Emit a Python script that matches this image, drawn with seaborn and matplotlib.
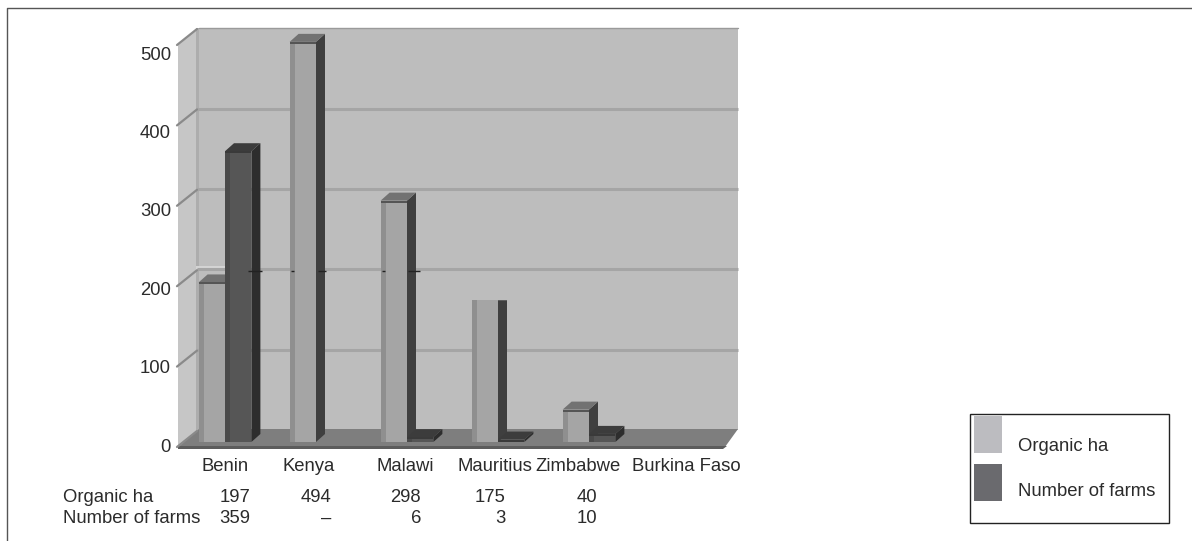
import numpy as np
import pandas as pd
import matplotlib
matplotlib.use("Agg")
import matplotlib.pyplot as plt
from matplotlib.patches import Polygon, Rectangle, Patch
from matplotlib.colors import to_hex
from matplotlib.transforms import ScaledTranslation
import seaborn as sns

countries = ["Benin", "Kenya", "Malawi", "Mauritius", "Zimbabwe", "Burkina Faso"]
organic_ha = [197, 494, 298, 175, 40, np.nan]
farms = [359, np.nan, 6, 3, 10, np.nan]
series_names = ["Organic ha", "Number of farms"]
table_organic = ["197", "494", "298", "175", "40"]
table_farms = ["359", "–", "6", "3", "10"]
y_ticks = [0, 100, 200, 300, 400, 500]

W, H = 1192, 541
DPI = 100
TXT = "#2b2b2b"
BAR_LIGHT, BAR_DARK = "#a5a5a5", "#565656"
sns.set_theme(style="white")
plt.rcParams["font.family"] = ["Liberation Sans", "DejaVu Sans"]
FS = 13.35

fig = plt.figure(figsize=(W / DPI, H / DPI), dpi=DPI, facecolor="white")


def px_axes(left, top, right, bottom, **kw):
    return fig.add_axes([left / W, 1 - bottom / H, (right - left) / W, (bottom - top) / H], **kw)


# pixel canvas for the chart furniture
bg = fig.add_axes([0, 0, 1, 1], zorder=0)
bg.set_xlim(0, W)
bg.set_ylim(H, 0)
bg.axis("off")
bg.plot([6.5, 6.5, W], [H, 7.5, 7.5], color="#555555", lw=1.0)

# back wall, side wall, floor
bg.add_patch(Rectangle((199, 28), 539, 402, fc="#bdbdbd", ec="none"))
bg.plot([199, 738], [28, 28], color="#9a9a9a", lw=1)
bg.add_patch(Polygon([(178, 447), (199, 430), (199, 28), (178, 45)], fc="#c6c6c6", ec="none"))
bg.add_patch(Rectangle((196, 28), 3, 402, fc="#adadad", ec="none"))
for v in y_ticks[1:5]:
    yy = 430 - 0.803 * v
    bg.plot([197, 738], [yy, yy], color="#a5a5a5", lw=2.2, solid_capstyle="butt")
for v in y_ticks:
    yf = 447 - 0.804 * v
    bg.plot([177, 197], [yf, yf - 16], color="#8a8a8a", lw=1.6)
bg.add_patch(Polygon([(178, 447), (199, 429), (738, 429), (725, 447)], fc="#7e7e7e", ec="none"))
bg.add_patch(Polygon([(178, 449), (178, 446), (727, 446), (723, 449)], fc="#5c5c5c", ec="none"))

# bars
df = pd.DataFrame({
    "country": countries * 2,
    "value": organic_ha + farms,
    "series": [series_names[0]] * 6 + [series_names[1]] * 6,
})
ax = px_axes(179.5, 37, 725.5, 442, zorder=2)
ax.patch.set_alpha(0)
sns.barplot(data=df, x="country", y="value", hue="series", hue_order=series_names,
            palette=[BAR_LIGHT, BAR_DARK], width=0.58, gap=0, legend=False,
            saturation=1, linewidth=0, edgecolor="none", ax=ax, order=countries)
ax.set_xlim(-0.5, 5.5)
ax.set_ylim(0, 500)
ax.set_xlabel("")
ax.set_ylabel("")
sns.despine(ax=ax, left=True, bottom=True)
ax.set_yticks([])
ax.tick_params(axis="x", length=0, pad=11.5, labelsize=FS, labelcolor=TXT)
label_shift = [0, -7, -2, -3, -11, 6]
for lab, dx in zip(ax.get_xticklabels(), label_shift):
    lab.set_transform(lab.get_transform() + ScaledTranslation(dx / DPI, 0, fig.dpi_scale_trans))

# 3-D faces computed from each bar through the axes' own scales
DX, DY = 9, 8
capless = {countries.index("Mauritius")}
to_px = ax.transData + bg.transData.inverted()
for bar in list(ax.patches):
    h = bar.get_height()
    if not np.isfinite(h) or h <= 0:
        continue
    (x0, ytop), (x1, ybot) = to_px.transform([(bar.get_x(), h),
                                              (bar.get_x() + bar.get_width(), 0)])
    light = to_hex(bar.get_facecolor()) == BAR_LIGHT
    flat = light and round(bar.get_x() + bar.get_width() / 2 + 0.14) in capless
    side = "#3f3f3f" if light else "#2d2d2d"
    cap = "#727272" if light else "#3c3c3c"
    strip = "#8f8f8f" if light else "#4a4a4a"
    z = 2.0 if light else 2.5
    kw = dict(transform=bg.transData, clip_on=False, ec="none")
    dy = 0 if flat else DY
    ax.add_patch(Polygon([(x1, ytop), (x1 + DX, ytop - dy), (x1 + DX, ybot - DY), (x1, ybot)],
                         fc=side, zorder=z, **kw))
    if not flat:
        ax.add_patch(Polygon([(x0, ytop), (x1, ytop), (x1 + DX, ytop - DY), (x0 + DX, ytop - DY)],
                             fc=cap, zorder=z, **kw))
        ax.add_patch(Rectangle((x0, ytop), x1 - x0, min(2, ybot - ytop),
                               fc="#555555" if light else "#3a3a3a", zorder=3.2, **kw))
    ax.add_patch(Rectangle((x0, ytop), min(5, x1 - x0), ybot - ytop, fc=strip, zorder=3.1, **kw))
    bar.set_zorder(3)

# scan specks and the pale band across the 200 gridline
bg.add_patch(Rectangle((196, 266), 30, 4, fc="#d4d4d4", ec="none"))
for xa, xb in [(248, 262), (291, 294), (318, 326), (382, 385), (408, 420)]:
    ax.plot([xa, xb], [270.5, 270.5], color="#222222", lw=1.0, transform=bg.transData,
            clip_on=False, zorder=4, solid_capstyle="butt")

# value axis labels sit on their own slightly compressed scale
ax_lab = px_axes(178, 53, 179, 445, zorder=1)
ax_lab.patch.set_alpha(0)
ax_lab.set_ylim(0, 500)
ax_lab.set_xticks([])
ax_lab.set_yticks(y_ticks)
ax_lab.tick_params(axis="y", length=0, pad=5, labelsize=FS, labelcolor=TXT)
for s in ax_lab.spines.values():
    s.set_visible(False)

# data table under the chart
for name, vals, ypx in [(series_names[0], table_organic, 497.5), (series_names[1], table_farms, 518.5)]:
    bg.text(63, ypx, name, fontsize=FS, color=TXT, va="center", ha="left")
    for xr, t in zip([250, 331, 421, 506, 597], vals):
        bg.text(xr, ypx, t, fontsize=FS, color=TXT, va="center", ha="right")

# legend
bg.add_patch(Rectangle((969.5, 413.5), 199, 109, fc="white", ec="#222222", lw=1))
font_px = FS * DPI / 72
handles = [Patch(fc="#bcbcc0", ec="none"), Patch(fc="#6a6a6e", ec="none")]
hh = (37 / font_px - 0.245) / 0.65
leg = fig.legend(handles, series_names, loc="upper left",
                 bbox_to_anchor=(974 / W, 1 - 416 / H), frameon=False, fontsize=FS,
                 borderpad=0, borderaxespad=0, handlelength=28 / font_px, handleheight=hh,
                 handletextpad=16 / font_px, labelspacing=11 / font_px, labelcolor=TXT)
for t, drop in zip(leg.get_texts(), [11, 8]):
    t.set_position((0, -drop))

fig.savefig("out.png", dpi=DPI, facecolor="white")
